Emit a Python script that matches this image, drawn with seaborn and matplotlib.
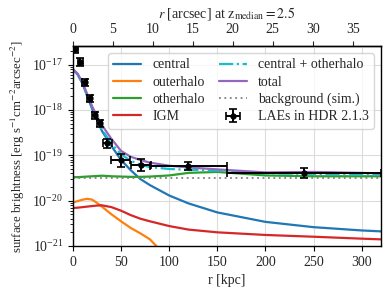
import numpy as np
import pandas as pd
import matplotlib
matplotlib.use("Agg")
import matplotlib.pyplot as plt
import seaborn as sns

# --- dados ---
r_kpc = [0, 5, 10, 15, 20, 25, 30, 40, 50, 60, 70, 80, 100, 120, 150, 200, 250, 300, 320]

sb_central = [7.9e-18, 6.0e-18, 3.8e-18, 2.0e-18, 1.05e-18, 6.0e-19, 3.5e-19, 1.6e-19, 7.9e-20,
              4.7e-20, 3.0e-20, 2.2e-20, 1.3e-20, 8.7e-21, 5.5e-21, 3.4e-21, 2.6e-21, 2.2e-21, 2.1e-21]
sb_outerhalo = [9.1e-21, 9.8e-21, 1.05e-20, 1.1e-20, 1.05e-20, 8.9e-21, 7.4e-21, 5.0e-21, 3.5e-21,
                2.5e-21, 1.9e-21, 1.4e-21, 5.0e-22, 2.0e-22, 8.0e-23, 3.0e-23, 1.5e-23, 1.0e-23, 9.0e-24]
sb_otherhalo = [3.3e-20, 3.3e-20, 3.35e-20, 3.4e-20, 3.45e-20, 3.5e-20, 3.55e-20, 3.45e-20, 3.4e-20,
                3.35e-20, 3.35e-20, 3.4e-20, 3.6e-20, 4.1e-20, 4.3e-20, 3.6e-20, 3.45e-20, 3.45e-20, 3.45e-20]
sb_igm = [6.9e-21, 7.0e-21, 7.2e-21, 7.4e-21, 7.6e-21, 7.8e-21, 7.9e-21, 7.2e-21, 6.0e-21,
          4.8e-21, 4.0e-21, 3.5e-21, 2.75e-21, 2.3e-21, 2.0e-21, 1.75e-21, 1.6e-21, 1.45e-21, 1.4e-21]
sb_central_other = [7.9e-18, 6.1e-18, 3.8e-18, 2.0e-18, 1.07e-18, 6.2e-19, 3.8e-19, 1.8e-19, 1.05e-19,
                    7.6e-20, 6.2e-20, 5.5e-20, 5.0e-20, 4.8e-20, 4.6e-20, 4.0e-20, 3.9e-20, 3.8e-20, 3.8e-20]
sb_total = [8.0e-18, 6.3e-18, 4.0e-18, 2.2e-18, 1.2e-18, 7.3e-19, 4.7e-19, 2.3e-19, 1.25e-19,
            9.3e-20, 7.9e-20, 6.9e-20, 5.9e-20, 5.4e-20, 4.9e-20, 4.2e-20, 4.3e-20, 4.1e-20, 4.0e-20]
sb_background = 3.2e-20

# LAEs em HDR 2.1.3
r_lae = [2.4, 7.6, 12.1, 17.3, 22.5, 27.7, 35.7, 49.5, 70.5, 120, 240]
sb_lae = [2.2e-17, 1.15e-17, 4.1e-18, 1.8e-18, 7.6e-19, 5.1e-19, 1.85e-19, 7.9e-20, 6.2e-20, 5.9e-20, 4.1e-20]
xerr_lae = [2.4, 2.6, 2.5, 2.6, 2.6, 2.6, 4.5, 10, 10.5, 40, 80]
yerr_low = [0.37e-17, 0.2e-17, 0.7e-18, 0.31e-18, 1.3e-19, 0.87e-19, 0.38e-19, 2.3e-20, 1.6e-20, 1.1e-20, 0.94e-20]
yerr_up = [0.44e-17, 0.23e-17, 0.82e-18, 0.36e-18, 1.5e-19, 1.0e-19, 0.48e-19, 2.8e-20, 2.1e-20, 1.3e-20, 1.15e-20]

yticks = [1e-21, 1e-20, 1e-19, 1e-18, 1e-17]
arcsec_ticks = [0, 5, 10, 15, 20, 25, 30, 35]
kpc_por_arcsec = 8.3  # z_median = 2.5

# --- estilo ---
sns.set_style("ticks", {"axes.grid": True, "grid.color": "#dcdcdc", "axes.edgecolor": "black"})
plt.rcParams['font.family'] = ['Liberation Serif', 'DejaVu Serif']
plt.rcParams['mathtext.fontset'] = 'stix'
plt.rcParams['font.size'] = 10
plt.rcParams['axes.linewidth'] = 1.0

fig, ax = plt.subplots(figsize=(3.9, 2.96), dpi=100)

curvas = [
    ('central', sb_central, 'tab:blue', '-'),
    ('outerhalo', sb_outerhalo, 'tab:orange', '-'),
    ('otherhalo', sb_otherhalo, 'tab:green', '-'),
    ('IGM', sb_igm, 'tab:red', '-'),
    ('central + otherhalo', sb_central_other, 'tab:cyan', '-.'),
    ('total', sb_total, 'tab:purple', '-'),
]
for nome, valores, cor, estilo in curvas:
    df = pd.DataFrame({'r': r_kpc, 'sb': valores})
    sns.lineplot(data=df, x='r', y='sb', ax=ax, color=cor, linestyle=estilo,
                 linewidth=1.6, label=nome)

ax.axhline(sb_background, color='gray', linestyle=(0, (1, 2)), linewidth=1.3,
           label='background (sim.)')

ax.errorbar(r_lae, sb_lae, xerr=xerr_lae, yerr=[yerr_low, yerr_up], fmt='o', color='black',
            ms=3.5, elinewidth=1.4, capsize=3, capthick=1.2, zorder=10,
            label='LAEs in HDR 2.1.3')

ax.set_yscale('log')
ax.set_xlim(0, 320)
ax.set_ylim(1e-21, 2.6e-17)
ax.set_yticks(yticks)
ax.set_xlabel('r [kpc]')
ax.set_ylabel(r'surface brightness [erg s$^{-1}$cm$^{-2}$arcsec$^{-2}$]', fontsize=9.3)
ax.tick_params(axis='both', which='both', direction='out', color='black')
ax.grid(True, which='major', color='#dcdcdc', linewidth=0.8)

sec = ax.secondary_xaxis('top', functions=(lambda r: r / kpc_por_arcsec,
                                           lambda a: a * kpc_por_arcsec))
sec.set_xticks(arcsec_ticks)
sec.set_xlabel(r'$r$ [arcsec] at $\mathrm{z}_{\mathrm{median}} = 2.5$')

ax.legend(loc='upper right', ncol=2, fontsize=10, framealpha=0.8,
          handlelength=2.0, columnspacing=1.0, labelspacing=0.3, borderpad=0.4)

fig.subplots_adjust(left=0.187, right=0.977, bottom=0.169, top=0.845)
fig.savefig('out.png', dpi=100)
